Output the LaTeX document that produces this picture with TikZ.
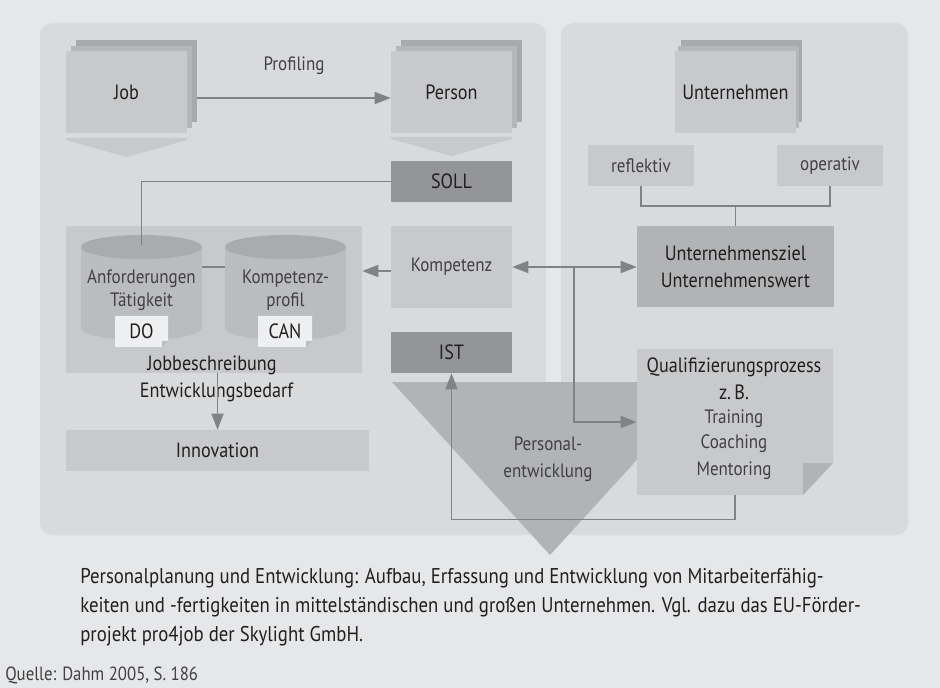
\documentclass[tikz,border=0pt]{standalone}
\usepackage{fontspec}
\setmainfont{PT Sans}[FakeStretch=0.88]
\usetikzlibrary{arrows.meta,fit}
\definecolor{bgc}{HTML}{E6E7E8}
\definecolor{panelc}{HTML}{D9DADB}
\definecolor{boxc}{HTML}{C8C9CB}
\definecolor{backc}{HTML}{A7A9AC}
\definecolor{midc}{HTML}{B1B3B5}
\definecolor{darkc}{HTML}{939598}
\definecolor{cylc}{HTML}{BBBCBE}
\definecolor{cyltop}{HTML}{A9ABAE}
\definecolor{notec}{HTML}{EEEFF0}
\definecolor{linec}{HTML}{808285}
\definecolor{txtdark}{HTML}{231F20}
\definecolor{txtlight}{HTML}{414042}
\tikzset{
  lbl/.style={font=\fontsize{15.5}{20}\selectfont, text=txtdark, inner sep=0pt, align=center},
  lbll/.style={font=\fontsize{14.5}{17.5}\selectfont, text=txtlight, inner sep=0pt, align=center},
  captxt/.style={font=\fontsize{16}{18}\selectfont, text=txtdark, inner sep=0pt, anchor=mid west},
  box/.style={fill=#1, inner sep=0pt},
  conn/.style={draw=linec, line width=1.1pt},
  arr/.style={conn, -{Triangle[length=12pt,width=9pt]}},
  arrb/.style={conn, {Triangle[length=12pt,width=9pt]}-{Triangle[length=12pt,width=9pt]}},
}
\newcommand{\sheetstack}[7]{% name, x1,y1,x2,y2, dx, text
  \fill[backc] (#2+#6,#3-11) rectangle (#4+#6,#5-11);
  \fill[backc!55!boxc] (#2+#6/2,#3-5) rectangle (#4+#6/2,#5-5);
  \node[box=boxc, fit={(#2,#3) (#4,#5)}, label={[lbl]center:#7}] (#1) {};
}
\begin{document}
\begin{tikzpicture}[x=0.75pt,y=-0.75pt]
\fill[bgc] (0,0) rectangle (940,688);
\useasboundingbox (0,0) rectangle (940,688);
% panels
\fill[panelc, rounded corners=9pt] (40,23) rectangle (546,535);
\fill[panelc, rounded corners=9pt] (561,23) rectangle (908,535);

% stacks
\sheetstack{job}{66}{51}{187}{133}{10}{Job}
\sheetstack{person}{391}{51}{512}{133}{10}{Person}
\sheetstack{untern}{675}{51}{796}{133}{6}{Unternehmen}
% chevrons
\fill[boxc] (66,138) -- (187,138) -- (187,140) -- (126.5,157) -- (66,140) -- cycle;
\fill[boxc] (391,137) -- (512,137) -- (512,139) -- (451.5,156) -- (391,139) -- cycle;

% Profiling arrow
\draw[arr] ([xshift=7.5pt,yshift=-4.5pt]job.east) -- ([yshift=-4.5pt]person.west)
  node[midway, lbll, above=17pt] (prof) {Profiling};

% SOLL
\node[box=darkc, fit={(391,161) (512,202)}, label={[lbl]center:SOLL}] (soll) {};

% Jobbeschreibung box
\node[box=boxc, fit={(66,226) (362,373)}] (jb) {};
% cylinders
\foreach \n/\xa/\xb in {cyla/81/202, cylb/225/346}{
  \fill[cylc] (\xa,247) rectangle (\xb,328);
  \fill[cylc] ({(\xa+\xb)/2},328) ellipse [x radius={(\xb-\xa)/2}, y radius=12];
  \fill[cyltop] ({(\xa+\xb)/2},247) ellipse [x radius={(\xb-\xa)/2}, y radius=12];
  \node[fit={(\xa,235) (\xb,340)}, inner sep=0pt] (\n) {};
}
\coordinate (cylatop) at (141.5,245);
\draw[conn] (cyla.east |- 0,267) -- (cylb.west |- 0,267);
\node[lbll] (anf) at (141.5,290) {Anforderungen\\Tätigkeit};
\node[lbll] (kprof) at (285.5,290) {Kompetenz-\\profil};
% notes DO, CAN
\foreach \n/\xa/\xb/\t in {donote/115/168/DO, cannote/258/312/CAN}{
  \fill[notec] (\xa,316) -- (\xb,316) -- (\xb,341) -- (\xb-6,347) -- (\xa,347) -- cycle;
  \fill[cylc] (\xb,341) -- (\xb-6,347) -- (\xb-6,341) -- cycle;
  \node[fit={(\xa,316) (\xb,347)}, inner sep=0pt, label={[lbl]center:\t}] (\n) {};
}
\node[lbl, anchor=mid] (jbt1) at (212,367) {Jobbeschreibung};
\node[lbl, anchor=mid] (jbt2) at (216.5,394) {Entwicklungsbedarf};

\draw[conn] (soll.west) -| (cylatop);

% Innovation
\node[box=boxc, fit={(66,430) (369,471)}, label={[lbl]center:Innovation}] (innov) {};
\draw[arr] (innov.north |- jb.south) -- (innov.north);

% Kompetenz
\node[box=boxc, fit={(391,226) (512,308)}, label={[lbll]center:Kompetenz}] (komp) {};
\draw[arr] ([yshift=-3pt]komp.west) -- ([yshift=-3pt]komp.west -| jb.east);

% IST
\node[box=darkc, fit={(391,332) (512,373)}, label={[lbl]center:IST}] (ist) {};

% Triangle Personalentwicklung
\fill[midc] (392,382) -- (708,382) -- (550,555) -- cycle;
\node[lbll, anchor=mid] (pe1) at (548,447) {Personal-};
\node[lbll, anchor=mid] (pe2) at (548,474) {entwicklung};

% right side
\node[box=boxc, fit={(588,145) (694,186)}, label={[lbll]center:reflektiv}] (refl) {};
\node[box=boxc, fit={(777,145) (883,186)}, label={[lbll]center:operativ}] (oper) {};
\node[box=midc, fit={(637,226) (834,307)}, label={[lbl]center:Unternehmensziel\\Unternehmenswert}] (uz) {};
\coordinate (jn) at (735.5,206);
\draw[conn] (refl.south) |- (jn) -| (oper.south);
\draw[conn] (jn) -- (uz.north);

% Qualifizierungsprozess
\fill[boxc] (637,349) -- (833,349) -- (833,463) -- (803,495) -- (637,495) -- cycle;
\fill[midc] (833,463) -- (803,495) -- (803,463) -- cycle;
\node[fit={(637,349) (833,495)}, inner sep=0pt] (qp) {};
\node[lbl, anchor=mid] (q1) at (734,369) {Qualifizierungsprozess};
\node[lbl, anchor=mid] (q2) at (734,396) {z.\,B.};
\node[lbll, anchor=mid] (q3) at (734,420) {Training};
\node[lbll, anchor=mid] (q4) at (734,445) {Coaching};
\node[lbll, anchor=mid] (q5) at (734,472) {Mentoring};

% connectors
\draw[arrb] (komp.east) -- (komp.east -| uz.west);
\coordinate (br) at (574,267);
\draw[arr] (br) |- (qp.west);
\draw[arr] (qp.south) -- ++(0,24) -| (ist.south);

% caption
\node[captxt] (cap1) at (80,580) {Personalplanung und Entwicklung: Aufbau, Erfassung und Entwicklung von Mitarbeiterfähig-};
\node[captxt] (cap2) at (80,609) {keiten und -fertigkeiten in mittelständischen und großen Unternehmen. Vgl. dazu das EU-Förder-};
\node[captxt] (cap3) at (80,638) {projekt pro4job der Skylight GmbH.};
\node[captxt, text=txtlight, font=\fontsize{14.3}{16}\selectfont] (quelle) at (5,677) {Quelle: Dahm 2005, S. 186};
\end{tikzpicture}
\end{document}
